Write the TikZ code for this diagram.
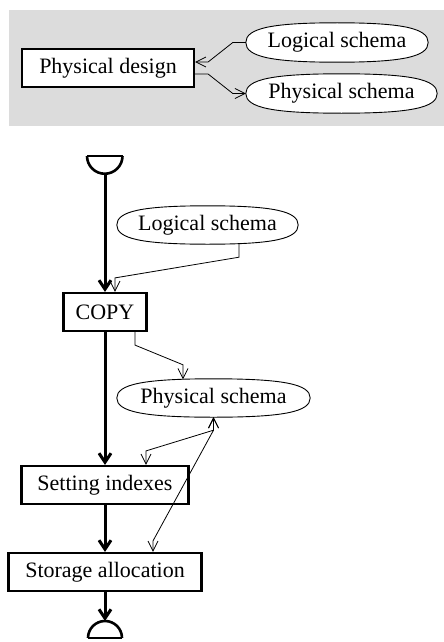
\documentclass[tikz,border=0pt]{standalone}
\usepackage{fontspec}
\setmainfont{Liberation Serif}
\usetikzlibrary{arrows.meta,calc,backgrounds}
\definecolor{bggray}{RGB}{220,220,220}
\newcommand{\schemaline}[1]{%
  \draw[line width=0.9pt, fill=white]
    (#1.east) .. controls ($(#1.east)!0.72!(#1.north east)$) and ($(#1.north)!0.72!(#1.north east)$) .. (#1.north)
    .. controls ($(#1.north)!0.72!(#1.north west)$) and ($(#1.west)!0.72!(#1.north west)$) .. (#1.west)
    .. controls ($(#1.west)!0.72!(#1.south west)$) and ($(#1.south)!0.72!(#1.south west)$) .. (#1.south)
    .. controls ($(#1.south)!0.72!(#1.south east)$) and ($(#1.east)!0.72!(#1.south east)$) .. (#1.east) -- cycle;}
\begin{document}
\begin{tikzpicture}[x=1pt,y=-1pt,
  every node/.style={font=\fontsize{22}{26}\selectfont, inner sep=0pt},
  procbox/.style={draw, line width=2.2pt, fill=white, minimum height=38pt},
  schema/.style={rectangle, minimum height=38pt},
  flow/.style={line width=3pt, -{Straight Barb[length=9pt,width=12pt]}},
  link/.style={line width=0.8pt, -{Straight Barb[length=10pt,width=10pt]}},
  dlink/.style={line width=0.8pt, {Straight Barb[length=10pt,width=10pt]}-{Straight Barb[length=10pt,width=10pt]}},
  term/.style={line width=2.6pt}]
\useasboundingbox (0,0) rectangle (444,642);
% legend panel
\node[procbox, minimum width=172pt] (PD) at (108,68) {Physical design};
\node[schema, minimum width=182pt, minimum height=39pt] (LS1) at (337,42.5) {Logical schema};
\node[schema, minimum width=191pt, minimum height=39pt] (PS1) at (341.5,93.5) {Physical schema};
\draw[link] (LS1.west) -- ++(-13,0) -- ($(PD.east)+(13,-6)$) -- ($(PD.east)+(0,-6)$);
\draw[link] ($(PD.east)+(0,6)$) -- ++(13,0) -- ($(PS1.west)+(-13,0)$) -- (PS1.west);
% process
\node[procbox, minimum width=83pt] (COPY) at (105,312) {COPY};
\node[schema, minimum width=181pt] (LS2) at (207.5,225) {Logical schema};
\node[schema, minimum width=193pt] (PS2) at (213.5,398) {Physical schema};
\node[procbox, minimum width=167pt] (SI) at (105,485) {Setting indexes};
\node[procbox, minimum width=193pt] (SA) at (105,572) {Storage allocation};
\begin{scope}[on background layer]
  \fill[bggray] (9,10) rectangle (444,126);
  \schemaline{LS1}
  \schemaline{PS1}
  \schemaline{LS2}
  \schemaline{PS2}
\end{scope}
% start symbol
\coordinate (startbot) at (105,174);
\draw[term] (87,156) -- (122.5,156);
\draw[term] (122.5,156) arc[start angle=0,end angle=-180,radius=17.75pt];
% end symbol
\coordinate (endtop) at (105,621);
\draw[term] (88,638) -- (122,638);
\draw[term] (122,638) arc[start angle=0,end angle=180,radius=17pt];
% main flow
\draw[flow] (startbot) -- (COPY.north);
\draw[flow] (COPY.south) -- (SI.north);
\draw[flow] (SI.south) -- (SA.north);
\draw[flow] (SA.south) -- (endtop);
% data links
\draw[link] ($(LS2.south)+(31.5,-1)$) -- ++(0,14) -- ($(COPY.north)+(10,-14)$) -- ($(COPY.north)+(10,0)$);
\draw[link] ($(COPY.south)+(30,0)$) -- ++(0,13) -- ($(PS2.north)+(-30.5,-14)$) -- ($(PS2.north)+(-30.5,0.5)$);
\draw[dlink] ($(SI.north)+(41,0)$) -- ++(0,-14) -- ($(PS2.south)+(0,13)$) -- (PS2.south);
\draw[dlink] ($(SA.north)+(48,0)$) -- ++(0,-11) -- ($(PS2.south)+(0,13)$) -- (PS2.south);
\end{tikzpicture}
\end{document}
